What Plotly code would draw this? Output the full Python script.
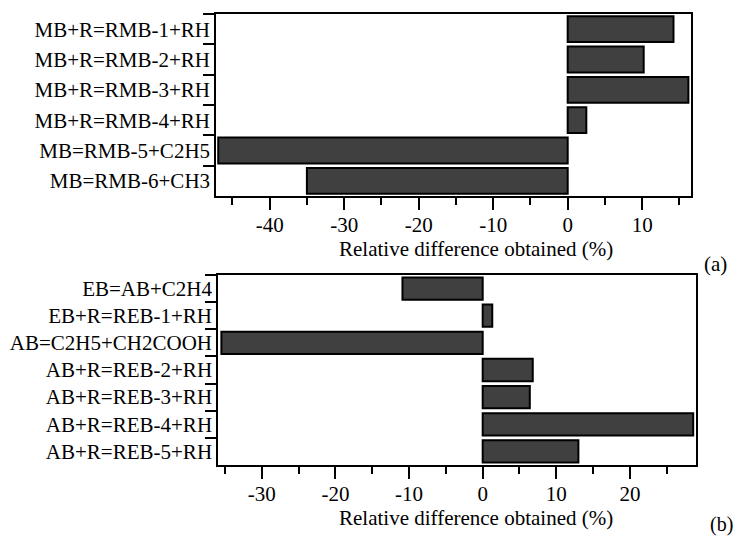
import plotly.graph_objects as go

# Panel (a)
cats_a = ["MB+R=RMB-1+RH", "MB+R=RMB-2+RH", "MB+R=RMB-3+RH", "MB+R=RMB-4+RH",
          "MB=RMB-5+C2H5", "MB=RMB-6+CH3"]
vals_a = [14.2, 10.2, 16.2, 2.5, -46.9, -35.0]
ticks_a = [-40, -30, -20, -10, 0, 10]
ticklabels_a = ["-40", "-30", "-20", "-10", "0", "10"]

# Panel (b)
cats_b = ["EB=AB+C2H4", "EB+R=REB-1+RH", "AB=C2H5+CH2COOH", "AB+R=REB-2+RH",
          "AB+R=REB-3+RH", "AB+R=REB-4+RH", "AB+R=REB-5+RH"]
vals_b = [-10.9, 1.3, -35.5, 6.8, 6.4, 28.6, 13.0]
ticks_b = [-30, -20, -10, 0, 10, 20]
ticklabels_b = ["-30", "-20", "-10", "0", "10", "20"]

xtitle = "Relative difference obtained (%)"

FONT = "'Liberation Serif', 'Times New Roman', 'DejaVu Serif', serif"
FS = 21
W, H = 735, 536

fig = go.Figure()
bar_style = dict(orientation="h", marker=dict(color="#404040", line=dict(color="black", width=2)),
                 showlegend=False, hoverinfo="x+y")
fig.add_trace(go.Bar(x=vals_a, y=cats_a, xaxis="x", yaxis="y", width=0.85, **bar_style))
fig.add_trace(go.Bar(x=vals_b, y=cats_b, xaxis="x2", yaxis="y2", width=0.82, **bar_style))

def px_x(p):
    return p / W

def px_y(p):
    return 1 - p / H

common_x = dict(showline=True, linecolor="black", linewidth=1.5, mirror=True,
                ticks="outside", ticklen=12, tickwidth=1.5, tickcolor="black",
                tickmode="array", showgrid=False, zeroline=False, ticklabelstandoff=-3,
                tickfont=dict(family=FONT, size=FS, color="black"),
                minor=dict(dtick=5, tick0=0, ticks="outside", ticklen=7, tickwidth=1.5,
                           tickcolor="black", showgrid=False))
common_y = dict(showline=True, linecolor="black", linewidth=1.5, mirror=True,
                ticks="outside", ticklen=11, tickwidth=1.5, tickcolor="black",
                tickson="boundaries", showgrid=False, zeroline=False,
                type="category", autorange="reversed",
                tickfont=dict(family=FONT, size=FS, color="black"))

fig.update_layout(
    width=W, height=H,
    margin=dict(l=0, r=0, t=0, b=0),
    paper_bgcolor="white", plot_bgcolor="white",
    font=dict(family=FONT, size=FS, color="black"),
    xaxis=dict(domain=[px_x(216), px_x(691)], range=[-47.2, 16.55], anchor="y",
               tickvals=ticks_a, ticktext=ticklabels_a, **common_x),
    yaxis=dict(domain=[px_y(196), px_y(14)], anchor="x", **common_y),
    xaxis2=dict(domain=[px_x(218), px_x(696)], range=[-35.96, 28.98], anchor="y2",
                tickvals=ticks_b, ticktext=ticklabels_b, **common_x),
    yaxis2=dict(domain=[px_y(465), px_y(275)], anchor="x2", **common_y),
    annotations=[
        dict(text=xtitle, x=px_x(476), y=px_y(249), xref="paper", yref="paper",
             showarrow=False, xanchor="center", yanchor="middle",
             font=dict(family=FONT, size=FS, color="black")),
        dict(text=xtitle, x=px_x(476), y=px_y(518), xref="paper", yref="paper",
             showarrow=False, xanchor="center", yanchor="middle",
             font=dict(family=FONT, size=FS, color="black")),
        dict(text="(a)", x=px_x(715), y=px_y(264), xref="paper", yref="paper",
             showarrow=False, xanchor="center", yanchor="middle",
             font=dict(family=FONT, size=FS, color="black")),
        dict(text="(b)", x=px_x(721), y=px_y(524), xref="paper", yref="paper",
             showarrow=False, xanchor="center", yanchor="middle",
             font=dict(family=FONT, size=FS - 1, color="black")),
    ],
)

fig.write_html("out.html")
